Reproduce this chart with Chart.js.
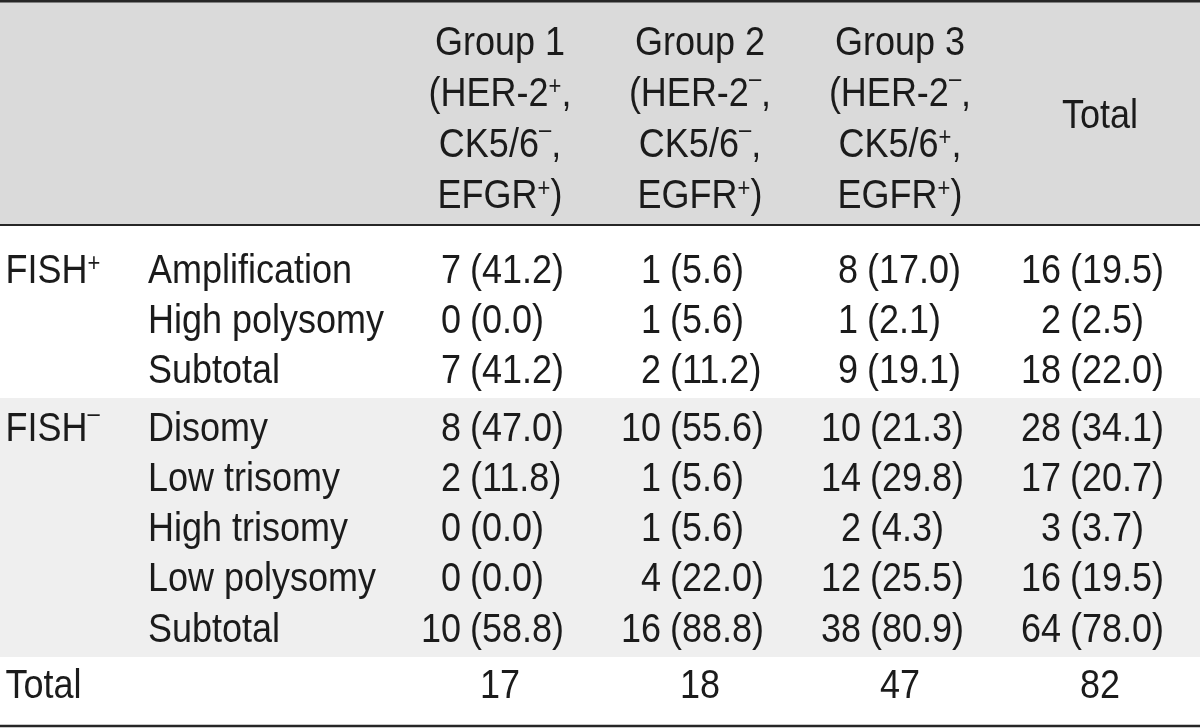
<!DOCTYPE html>
<html>
<head>
<meta charset="utf-8">
<script src="https://cdn.jsdelivr.net/npm/chart.js@4"></script>
<style>
  body { margin: 0; background: #fff; }
  #wrap { width: 1200px; height: 728px; }
</style>
</head>
<body>
<div id="wrap"><canvas id="table"></canvas></div>
<script>
// table content
const sections = ["FISH⁺", "FISH⁻"];
const sectionFirstRow = [0, 3];
const categories = ["Amplification", "High polysomy", "Subtotal", "Disomy", "Low trisomy", "High trisomy", "Low polysomy", "Subtotal"];
const groupTitles = ["Group 1", "Group 2", "Group 3", "Total"];
const groupMarkers = [
    ["(HER-2⁺,", "CK5/6⁻,", "EFGR⁺)"],
    ["(HER-2⁻,", "CK5/6⁻,", "EGFR⁺)"],
    ["(HER-2⁻,", "CK5/6⁺,", "EGFR⁺)"],
    []
];
const group1Counts = [7, 0, 7, 8, 2, 0, 0, 10];
const group1Percent = [41.2, 0.0, 41.2, 47.0, 11.8, 0.0, 0.0, 58.8];
const group2Counts = [1, 1, 2, 10, 1, 1, 4, 16];
const group2Percent = [5.6, 5.6, 11.2, 55.6, 5.6, 5.6, 22.0, 88.8];
const group3Counts = [8, 1, 9, 10, 14, 2, 12, 38];
const group3Percent = [17.0, 2.1, 19.1, 21.3, 29.8, 4.3, 25.5, 80.9];
const totalCounts = [16, 2, 18, 28, 17, 3, 16, 64];
const totalPercent = [19.5, 2.5, 22.0, 34.1, 20.7, 3.7, 19.5, 78.0];
const columnTotals = [17, 18, 47, 82];
const totalLabel = "Total";

// layout (scale units: x 1 = 100px, y 1 = 50px)
const FONT = '"Liberation Sans", Arial, sans-serif';
const SIZE = 36;
const SUP_SIZE = 22;
const STRETCH = 1.14;
const TEXT_COLOR = "#1b1b1b";
const colX = [5, 7, 9, 11];
// where "(" starts, relative to the column centre, per section
const splitOffset = [[-0.30, -0.30, -0.33, -0.30], [-0.30, -0.30, -0.30, -0.30]];
const labelX = 0.055;
const categoryX = 1.48;
const headerLineY = (k) => 0.8 + k * 1.02;
const headerTotalY = 2.27;
const sectionStartY = [5.36, 8.52];
const rowPitch = 1.005;
const totalRowY = 13.66;
const headerBottom = 4.5;
const bandTop = 7.96;
const bandBottom = 13.14;
const tableBottom = 14.52;

function sectionOf(i)
{
    return i >= sectionFirstRow[1] ? 1 : 0;
}

function rowY(i)
{
    const s = sectionOf(i);
    return sectionStartY[s] + (i - sectionFirstRow[s]) * rowPitch;
}

// split a label into normal text and superscript signs
function segments(str)
{
    let out = [];
    for (const ch of str)
    {
        if (ch === "⁺" || ch === "⁻")
        {
            out.push({ text: ch === "⁺" ? "+" : "–", sup: true, rise: ch === "⁺" ? 10 : 16 });
        }
        else if (out.length && !out[out.length - 1].sup)
        {
            out[out.length - 1].text += ch;
        }
        else
        {
            out.push({ text: ch, sup: false });
        }
    }
    return out;
}

function drawText(ctx, str, x, y, align)
{
    const segs = segments(str);
    let width = 0;
    segs.forEach(s => {
        ctx.font = (s.sup ? SUP_SIZE : SIZE) + "px " + FONT;
        s.w = ctx.measureText(s.text).width;
        width += s.w;
    });
    let start = x;
    if (align === "right") start = x - width;
    if (align === "center") start = x - width / 2;

    ctx.save();
    ctx.translate(start, y);
    ctx.scale(1, STRETCH);
    ctx.fillStyle = TEXT_COLOR;
    ctx.textAlign = "left";
    ctx.textBaseline = "alphabetic";
    const base = SIZE * 0.716 / 2;
    let cx = 0;
    segs.forEach(s => {
        ctx.font = (s.sup ? SUP_SIZE : SIZE) + "px " + FONT;
        ctx.fillText(s.text, cx, base - (s.sup ? s.rise : 0));
        cx += s.w;
    });
    ctx.restore();
}

const tablePlugin = {
    id: "tablePlugin",
    beforeDatasetsDraw(chart)
    {
        const ctx = chart.ctx;
        const x = chart.scales.x;
        const y = chart.scales.y;
        const left = x.getPixelForValue(0);
        const right = x.getPixelForValue(12);

        ctx.save();
        ctx.fillStyle = "#fff";
        ctx.fillRect(0, 0, chart.width, chart.height);

        ctx.fillStyle = "#dadada";
        ctx.fillRect(left, y.getPixelForValue(0), right - left, y.getPixelForValue(headerBottom) - y.getPixelForValue(0));
        ctx.fillStyle = "#efefef";
        ctx.fillRect(left, y.getPixelForValue(bandTop), right - left, y.getPixelForValue(bandBottom) - y.getPixelForValue(bandTop));

        ctx.strokeStyle = "#262626";
        [[0.025, 2.5], [headerBottom, 2], [tableBottom, 2.5]].forEach(([v, w]) => {
            const py = y.getPixelForValue(v);
            ctx.lineWidth = w;
            ctx.beginPath();
            ctx.moveTo(left, py);
            ctx.lineTo(right, py);
            ctx.stroke();
        });
        ctx.restore();
    },
    afterDatasetsDraw(chart)
    {
        const ctx = chart.ctx;
        const px = chart.scales.x;
        chart.data.datasets.forEach((ds, di) => {
            const meta = chart.getDatasetMeta(di);
            meta.data.forEach((el, i) => {
                if (ds.kind === "label")
                {
                    drawText(ctx, ds.texts[i], el.x, el.y, ds.align);
                }
                else if (ds.kind === "value")
                {
                    const split = px.getPixelForValue(ds.data[i].x + splitOffset[sectionOf(i)][ds.group]);
                    drawText(ctx, String(ds.counts[i]), split - 9, el.y, "right");
                    drawText(ctx, "(" + ds.percent[i].toFixed(1) + ")", split, el.y, "left");
                }
            });
        });
    }
};

function labelSet(texts, xs, ys, align)
{
    return {
        kind: "label", texts: texts, align: align, pointRadius: 0,
        data: texts.map((t, i) => ({ x: xs(i), y: ys(i) }))
    };
}

function valueSet(g, counts, percent)
{
    return {
        kind: "value", group: g, counts: counts, percent: percent, pointRadius: 0,
        data: counts.map((c, i) => ({ x: colX[g], y: rowY(i) }))
    };
}

const datasets = [
    labelSet(sections, () => labelX, (i) => rowY(sectionFirstRow[i]), "left"),
    labelSet([totalLabel], () => labelX, () => totalRowY, "left"),
    labelSet(categories, () => categoryX, (i) => rowY(i), "left"),
    valueSet(0, group1Counts, group1Percent),
    valueSet(1, group2Counts, group2Percent),
    valueSet(2, group3Counts, group3Percent),
    valueSet(3, totalCounts, totalPercent),
    labelSet(columnTotals.map(String), (i) => colX[i], () => totalRowY, "center")
];

groupTitles.forEach((title, g) => {
    const lines = [title].concat(groupMarkers[g]);
    if (lines.length === 1)
    {
        datasets.push(labelSet(lines, () => colX[g], () => headerTotalY, "center"));
    }
    else
    {
        datasets.push(labelSet(lines, () => colX[g], (k) => headerLineY(k), "center"));
    }
});

new Chart(document.getElementById("table"), {
    type: "scatter",
    data: { datasets: datasets },
    options: {
        responsive: true,
        maintainAspectRatio: false,
        animation: false,
        events: [],
        layout: { padding: 0 },
        plugins: {
            legend: { display: false },
            tooltip: { enabled: false }
        },
        scales: {
            x: { type: "linear", min: 0, max: 12, display: false },
            y: { type: "linear", min: 0, max: 14.56, reverse: true, display: false }
        }
    },
    plugins: [tablePlugin]
});
</script>
</body>
</html>
